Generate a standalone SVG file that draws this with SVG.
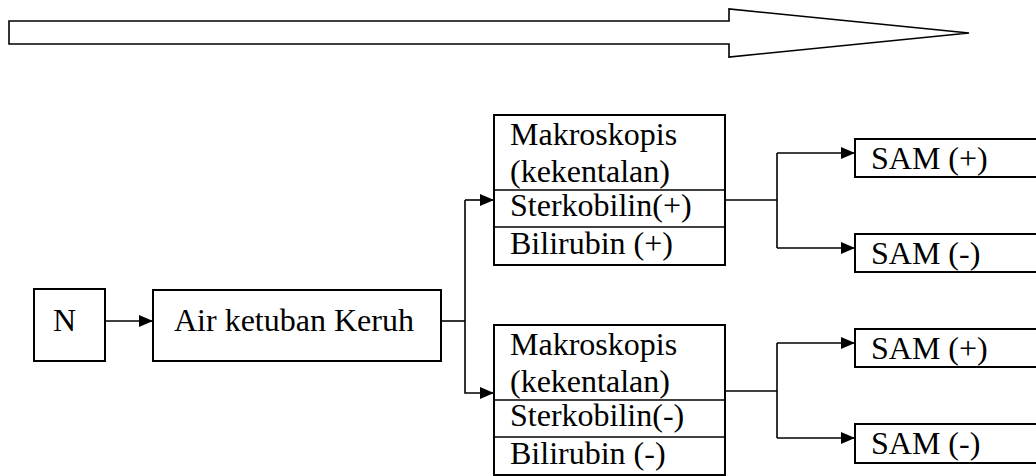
<svg xmlns="http://www.w3.org/2000/svg" width="1036" height="476" viewBox="0 0 1036 476">
<style>
.box{fill:#fff;stroke:#000;stroke-width:2}
.ln{fill:none;stroke:#000;stroke-width:1.6}
</style>
<defs>
<marker id="ah" markerUnits="userSpaceOnUse" markerWidth="16" markerHeight="14" refX="14" refY="7" orient="auto">
<path d="M0,1 L14,7 L0,13 Z" fill="#000"/>
</marker>
</defs>
<rect width="1036" height="476" fill="#fff"/>
<g id="big-arrow">
<polygon points="9,21 729,21 729,9 969,33 729,57 729,44 9,44" fill="#fff" stroke="#000" stroke-width="1.6"/>
</g>
<g id="connectors">
<line class="ln" x1="105" y1="321" x2="153" y2="321" marker-end="url(#ah)"/>
<polyline class="ln" points="441,321 465,321"/>
<polyline class="ln" points="465,200 465,393 494,393" marker-end="url(#ah)"/>
<path class="ln" d="M465,200 L494,200" marker-end="url(#ah)"/>
<line class="ln" x1="726" y1="200" x2="777" y2="200"/>
<polyline class="ln" points="777,153 777,248"/>
<line class="ln" x1="777" y1="153" x2="855" y2="153" marker-end="url(#ah)"/>
<line class="ln" x1="777" y1="248" x2="855" y2="248" marker-end="url(#ah)"/>
<line class="ln" x1="726" y1="391" x2="777" y2="391"/>
<polyline class="ln" points="777,343 777,438"/>
<line class="ln" x1="777" y1="343" x2="855" y2="343" marker-end="url(#ah)"/>
<line class="ln" x1="777" y1="438" x2="855" y2="438" marker-end="url(#ah)"/>
</g>
<g font-family="Liberation Serif, serif" font-size="32" fill="#000">
<g id="node-n">
<rect class="box" x="34" y="289" width="71" height="72"/>
<text x="53" y="331">N</text>
</g>
<g id="node-air">
<rect class="box" x="153" y="290" width="288" height="71"/>
<text x="174" y="331">Air ketuban Keruh</text>
</g>
<g id="node-top">
<rect class="box" x="494" y="115" width="231" height="150"/>
<line class="ln" x1="494" y1="190" x2="725" y2="190" stroke-width="2"/>
<line class="ln" x1="494" y1="227" x2="725" y2="227" stroke-width="2"/>
<text x="510" y="145">Makroskopis</text>
<text x="510" y="182">(kekentalan)</text>
<text x="510" y="216">Sterkobilin(+)</text>
<text x="510" y="254">Bilirubin (+)</text>
</g>
<g id="node-bottom">
<rect class="box" x="494" y="325" width="231" height="150"/>
<line class="ln" x1="494" y1="400" x2="725" y2="400" stroke-width="2"/>
<line class="ln" x1="494" y1="437" x2="725" y2="437" stroke-width="2"/>
<text x="510" y="355">Makroskopis</text>
<text x="510" y="392">(kekentalan)</text>
<text x="510" y="426">Sterkobilin(-)</text>
<text x="510" y="464">Bilirubin (-)</text>
</g>
<g id="sam1">
<rect class="box" x="855" y="139" width="200" height="38"/>
<text x="871" y="169">SAM (+)</text>
</g>
<g id="sam2">
<rect class="box" x="855" y="234" width="200" height="38"/>
<text x="871" y="264">SAM (-)</text>
</g>
<g id="sam3">
<rect class="box" x="855" y="329" width="200" height="38"/>
<text x="871" y="359">SAM (+)</text>
</g>
<g id="sam4">
<rect class="box" x="855" y="424" width="200" height="39"/>
<text x="871" y="454">SAM (-)</text>
</g>
</g>
</svg>
